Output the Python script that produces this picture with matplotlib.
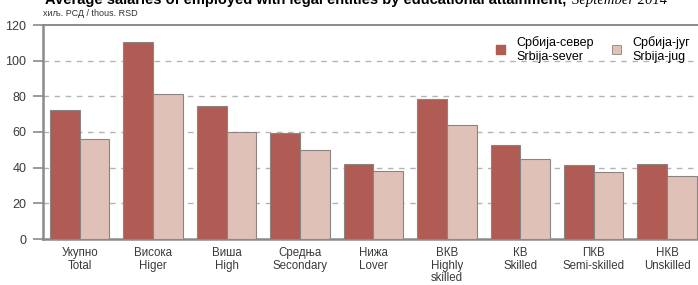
import matplotlib.pyplot as plt
import numpy as np
from matplotlib.patches import Patch

categories = ["Укупно\nTotal", "Висока\nHiger", "Виша\nHigh", "Средња\nSecondary",
              "Нижа\nLover", "ВКВ\nHighly\nskilled", "КВ\nSkilled", "ПКВ\nSemi-skilled",
              "НКВ\nUnskilled"]
sever = [72.3, 110.5, 74.3, 59.4, 42.3, 78.5, 52.8, 41.6, 42.0]
jug = [56.0, 81.5, 60.0, 50.0, 38.2, 64.2, 45.1, 37.5, 35.2]
series_labels = ["Србија-север\nSrbija-sever", "Србија-југ\nSrbija-jug"]
yticks = [0, 20, 40, 60, 80, 100, 120]

FONT = ["Liberation Sans Narrow", "Liberation Sans", "DejaVu Sans"]
plt.rcParams["font.family"] = FONT

c_sever = "#b05b53"
c_jug = "#dfc1b8"
c_edge = "#8c8480"
c_axis = "#8a8a8a"


def main():
    fig = plt.figure(figsize=(6.98, 2.85), dpi=100)
    ax = fig.add_axes([43 / 698, 1 - 239 / 285, 1 - 43 / 698, (239 - 25) / 285])

    x = np.arange(len(categories))
    w = 0.405
    ax.bar(x - w / 2, sever, w, color=c_sever, edgecolor=c_edge, linewidth=0.8, zorder=3)
    ax.bar(x + w / 2, jug, w, color=c_jug, edgecolor=c_edge, linewidth=0.8, zorder=3)

    ax.set_xlim(-0.5, len(categories) - 0.58)
    ax.set_ylim(0, 120)
    ax.set_yticks(yticks)
    ax.set_yticklabels([str(v) for v in yticks], fontsize=9, color="#3a3a3a")
    ax.set_xticks(x)
    ax.set_xticklabels(categories, fontsize=8.3, color="#3a3a3a", linespacing=1.05)
    ax.tick_params(axis="x", length=0, pad=6)
    ax.tick_params(axis="y", length=7, width=1.2, color=c_axis, pad=5)

    for v in yticks[1:-1]:
        ax.axhline(v, color="#b4b4b4", linestyle=(0, (4, 4)), linewidth=1.0, zorder=1)

    for s in ["left", "bottom", "top"]:
        ax.spines[s].set_color(c_axis)
        ax.spines[s].set_linewidth(1.8)
    ax.spines["top"].set_linewidth(1.4)
    ax.spines["right"].set_visible(False)

    handles = [Patch(facecolor=c_sever, edgecolor=c_sever),
               Patch(facecolor=c_jug, edgecolor=c_edge, linewidth=0.6)]
    ax.legend(handles, series_labels, loc="upper right", ncol=2, frameon=False,
              fontsize=9, handlelength=0.7, handleheight=0.7, handletextpad=0.9,
              columnspacing=1.5, bbox_to_anchor=(1.005, 1.0), labelspacing=0.1)

    fig.text(43 / 698, 1 - 14 / 285, "хиљ. РСД / thous. RSD", fontsize=6.5,
             color="#333333", va="center", ha="left")
    fig.text(0.065, 1 - 4 / 285, "Average salaries of employed with legal entities by educational attainment, ",
             fontsize=10.5, fontweight="bold", va="baseline", ha="left")
    fig.text(0.82, 1 - 4 / 285, "September 2014", fontsize=10.5, fontstyle="italic",
             va="baseline", ha="left", family=["Liberation Serif", "DejaVu Serif"])

    fig.savefig("out.png", dpi=100)


if __name__ == "__main__":
    main()
